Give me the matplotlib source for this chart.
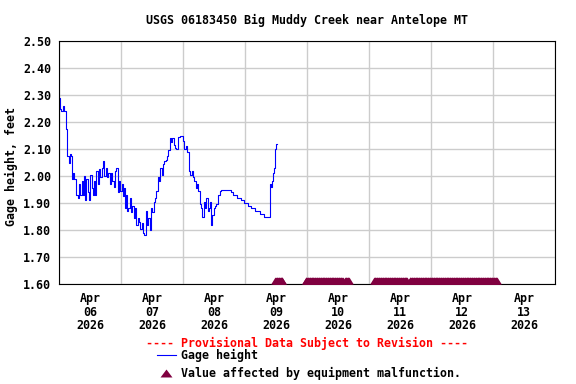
import numpy as np
import pandas as pd
import matplotlib
matplotlib.use('Agg')
import matplotlib.pyplot as plt
import matplotlib.dates as mdates
from matplotlib.path import Path
from matplotlib.lines import Line2D
from matplotlib.ticker import MultipleLocator, FormatStrFormatter, NullFormatter

# gage height readings, hours after 2026-04-06 00:00
hours = [0.0, 0.3, 0.8, 1.6, 1.9, 2.6, 2.8, 3.2, 3.9, 4.3, 4.6, 4.9, 5.4, 5.9, 6.5,
         6.7, 7.2, 7.7, 8.3, 8.8, 9.3, 9.8, 10.1, 10.6, 11.1, 11.6, 12.1, 12.6, 13.2,
         13.5, 13.9, 14.5, 15.0, 15.5, 16.0, 16.5, 17.0, 17.5, 18.1, 18.6, 19.1, 19.6,
         20.1, 20.6, 21.2, 21.7, 22.2, 22.7, 23.2, 23.7, 24.3, 24.8, 25.3, 25.5, 26.1,
         26.3, 26.8, 27.4, 27.9, 28.4, 28.9, 29.4, 29.9, 30.4, 31.0, 31.5, 32.0, 32.5,
         33.0, 33.5, 34.1, 34.6, 35.1, 35.6, 36.1, 36.6, 37.2, 37.7, 38.2, 38.7, 39.2,
         39.7, 40.3, 40.8, 41.3, 41.8, 42.3, 42.8, 43.3, 43.9, 44.4, 44.9, 45.4, 45.9,
         46.4, 47.0, 47.5, 48.0, 48.5, 49.0, 49.5, 50.1, 50.3, 50.8, 51.3, 51.9, 52.4,
         52.9, 53.4, 53.9, 54.4, 55.0, 55.5, 56.0, 56.5, 57.0, 57.5, 58.1, 58.6, 58.8,
         59.3, 59.9, 60.4, 60.9, 61.4, 61.9, 62.4, 62.6, 66.5, 67.5, 68.8, 70.3, 71.6,
         73.0, 74.3, 75.9, 77.8, 79.4, 81.6, 82.0, 82.3, 82.9, 83.3, 83.7, 84.1, 84.5]
gage = [2.29, 2.25, 2.24, 2.26, 2.24, 2.21, 2.175, 2.075, 2.05, 2.08, 2.075, 1.99, 2.01,
        1.99, 1.99, 1.93, 1.92, 1.97, 1.93, 1.98, 1.93, 2.00, 1.91, 1.99, 1.94, 1.91,
        2.005, 1.955, 1.93, 1.98, 1.93, 2.02, 1.97, 2.025, 1.995, 2.03, 2.055, 2.00,
        2.03, 1.995, 2.01, 1.97, 2.01, 1.98, 1.96, 2.02, 2.03, 1.94, 1.98, 1.945, 1.97,
        1.925, 1.955, 1.88, 1.93, 1.87, 1.88, 1.92, 1.865, 1.89, 1.845, 1.88, 1.82,
        1.845, 1.83, 1.805, 1.825, 1.79, 1.78, 1.87, 1.82, 1.845, 1.80, 1.88, 1.865,
        1.905, 1.92, 1.945, 1.995, 1.98, 2.03, 2.005, 2.045, 2.055, 2.06, 2.075, 2.095,
        2.14, 2.125, 2.14, 2.115, 2.105, 2.10, 2.145, 2.145, 2.15, 2.15, 2.13, 2.10,
        2.11, 2.09, 2.09, 2.02, 2.005, 2.02, 1.995, 1.98, 1.955, 1.97, 1.945, 1.895,
        1.88, 1.85, 1.905, 1.88, 1.92, 1.87, 1.88, 1.905, 1.82, 1.855, 1.88, 1.89,
        1.895, 1.93, 1.93, 1.945, 1.95, 1.94, 1.93, 1.92, 1.91, 1.90, 1.89, 1.88,
        1.87, 1.86, 1.85, 1.97, 1.96, 1.98, 2.01, 2.03, 2.10, 2.12, 2.12]

# periods flagged "equipment malfunction" (15-min readings)
flag_runs = [('2026-04-09 11:45', '2026-04-09 14:30'),
             ('2026-04-09 23:30', '2026-04-10 13:45'),
             ('2026-04-10 14:45', '2026-04-10 16:15'),
             ('2026-04-11 02:00', '2026-04-11 14:45'),
             ('2026-04-11 15:45', '2026-04-13 01:30')]

title = 'USGS 06183450 Big Muddy Creek near Antelope MT'

plt.rcParams['font.family'] = 'DejaVu Sans Mono'
plt.rcParams['font.weight'] = 'bold'
plt.rcParams['font.size'] = 8.4

W, H = 576, 384
fig = plt.figure(figsize=(5.76, 3.84), dpi=100)
L, R, T, B = 59, 555, 41, 284
ax = fig.add_axes([L/W, 1-B/H, (R-L)/W, (B-T)/H])

t0 = pd.Timestamp('2026-04-06')
times = t0 + pd.to_timedelta(hours, unit='h')
ax.plot(times, gage, color='#0000ff', lw=0.8, drawstyle='steps-post')

ax.set_xlim(t0, t0 + pd.Timedelta(days=8))
ax.set_ylim(1.6, 2.5)

maroon = '#800040'
tri_base = Path([(-0.614, 0), (0.614, 0), (0, 1), (-0.614, 0)],
                [Path.MOVETO, Path.LINETO, Path.LINETO, Path.CLOSEPOLY])
tri_mid = Path([(-0.75, -0.5), (0.75, -0.5), (0, 0.5), (-0.75, -0.5)],
               [Path.MOVETO, Path.LINETO, Path.LINETO, Path.CLOSEPOLY])
flag_times = pd.DatetimeIndex(np.concatenate(
    [pd.date_range(a, b, freq='15min') for a, b in flag_runs]))
ax.plot(flag_times, np.full(len(flag_times), ax.get_ylim()[0]), ls='none',
        marker=tri_base, ms=10.1, color=maroon, mew=0, clip_on=False, zorder=3)

# axes cosmetics
ax.yaxis.set_major_locator(MultipleLocator(0.1))
ax.yaxis.set_major_formatter(FormatStrFormatter('%.2f'))
ax.xaxis.set_major_locator(mdates.DayLocator())
ax.xaxis.set_major_formatter(NullFormatter())
ax.xaxis.set_minor_locator(mdates.HourLocator(byhour=12))
ax.xaxis.set_minor_formatter(mdates.DateFormatter('%b\n%d\n%Y'))
ax.tick_params(which='both', length=0)
ax.tick_params(axis='y', pad=5.5)
ax.tick_params(axis='x', which='minor', pad=6.0)
for lab in ax.get_xticklabels(minor=True):
    lab.set_linespacing(1.05)
ax.grid(which='major', color='#cccccc', lw=1)
ax.set_axisbelow(True)
for s in ax.spines.values():
    s.set_linewidth(0.8)

cx = (L + R) / 2 / W
fig.text(cx, 1-20/H, title, ha='center', va='center')
fig.text(11/W, 1-167/H, 'Gage height, feet', rotation=90, ha='center', va='center')
fig.text(cx, 1-343/H, '---- Provisional Data Subject to Revision ----',
         color='red', ha='center', va='center')

handles = [Line2D([], [], color='#0000ff', lw=0.8),
           Line2D([], [], ls='none', marker=tri_mid, ms=8.6, color=maroon, mew=0)]
fig.legend(handles, ['Gage height', 'Value affected by equipment malfunction.'],
           loc='upper left', bbox_to_anchor=(157/W, 1-349/H), frameon=False,
           borderpad=0, borderaxespad=0, handlelength=1.6, handletextpad=0.45,
           labelspacing=0.45)

fig.savefig('out.png', dpi=100)
